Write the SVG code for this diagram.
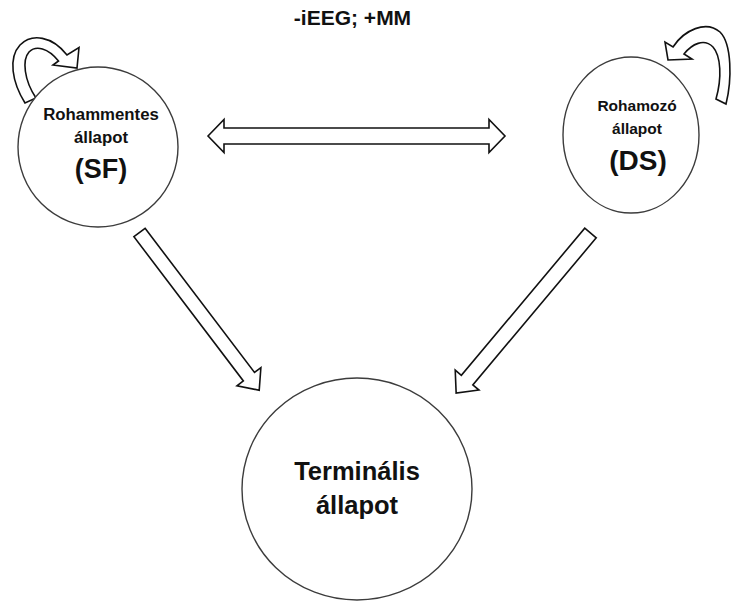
<svg xmlns="http://www.w3.org/2000/svg" width="732" height="602" viewBox="0 0 732 602">
  <style>
    .node { fill: #fff; stroke: #3c3c3c; stroke-width: 1.4; }
    .lbl { font-family: "Liberation Sans", Arial, sans-serif; font-weight: bold; fill: #111; text-anchor: middle; }
    .blk { fill: #fff; stroke: #111; stroke-width: 1.6; stroke-linejoin: miter; }
  </style>
  <rect width="732" height="602" fill="#fff"/>

  <text class="lbl" x="352.5" y="25" font-size="21">-iEEG; +MM</text>

  <!-- block arrows and self-loops -->
  <g id="connectors">
    <polygon class="blk" points="208,136 224,119.5 224,128 489,128 489,119.5 505,136 489,152.5 489,144 224,144 224,152.5"/>
    <polygon class="blk" transform="translate(139.5,232.5) rotate(52.8)" points="0,-7 181,-7 181,-15 198,0 181,15 181,7 0,7"/>
    <polygon class="blk" transform="translate(590.5,233) rotate(130)" points="0,-7.5 192,-7.5 192,-15.5 209,0 192,15.5 192,7.5 0,7.5"/>
    <path class="blk" d="M25,103 C12,82 8,58 20,45 C32,33 52,36 67,55 L79,47.5 L77,68 L53,65 L58.5,61 C48,48 36,45 29,52 C22,60 24,80 36,98 Z"/>
    <path class="blk" d="M673,47 C684,30 706,20 720,32 C732,44 732,80 726,104 L716,99 C722,78 721,56 713,47 C704,38 692,44 684,54 L692,59 L668,60 L665,42 Z"/>
  </g>

  <g id="node-sf">
    <circle class="node" cx="98" cy="147" r="80"/>
    <text class="lbl" x="101" y="120" font-size="16.8">Rohammentes</text>
    <text class="lbl" x="101" y="143" font-size="16.8">állapot</text>
    <text class="lbl" x="101" y="178" font-size="27">(SF)</text>
  </g>

  <g id="node-ds">
    <ellipse class="node" cx="631" cy="135" rx="68" ry="78"/>
    <text class="lbl" x="637" y="111" font-size="15.5">Rohamozó</text>
    <text class="lbl" x="637" y="134" font-size="15.5">állapot</text>
    <text class="lbl" x="638" y="170" font-size="28">(DS)</text>
  </g>

  <g id="node-terminal">
    <ellipse class="node" cx="357" cy="489" rx="115" ry="111"/>
    <text class="lbl" x="357" y="480" font-size="25.5">Terminális</text>
    <text class="lbl" x="357" y="514" font-size="25.5">állapot</text>
  </g>
</svg>
